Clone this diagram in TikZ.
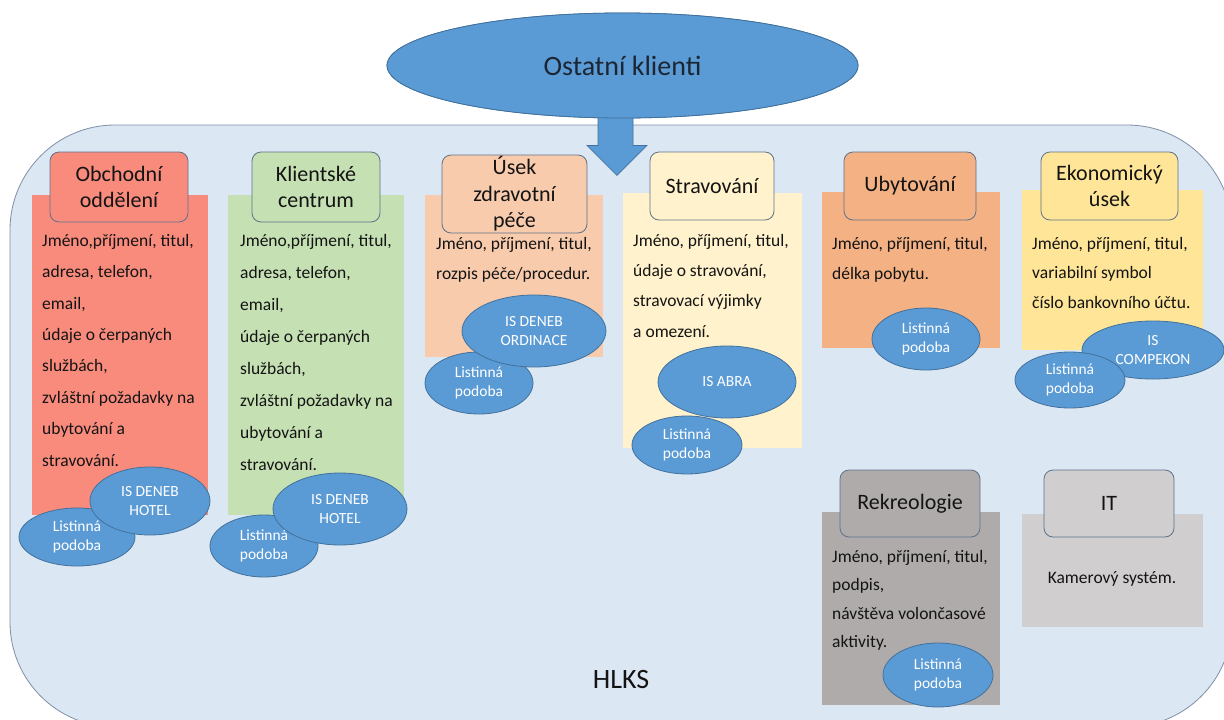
\documentclass[tikz,border=0pt]{standalone}
\usepackage{fontspec}
\setmainfont{Carlito}
\usetikzlibrary{shapes.geometric,calc}

\definecolor{hallfill}{HTML}{DCE7F4}
\definecolor{hallline}{HTML}{7F8FA6}
\definecolor{elfill}{HTML}{5B9BD5}
\definecolor{elline}{HTML}{41719C}
\definecolor{hdline}{HTML}{5E7289}
\definecolor{ink}{HTML}{141414}
\definecolor{navy}{HTML}{1C2633}
\definecolor{cObch}{HTML}{F98B7D}
\definecolor{cKlient}{HTML}{C5E0B3}
\definecolor{cZdrav}{HTML}{F8CBAD}
\definecolor{cStrav}{HTML}{FFF2CC}
\definecolor{cUbyt}{HTML}{F4B183}
\definecolor{cEkon}{HTML}{FFE597}
\definecolor{cRekr}{HTML}{AFABAB}
\definecolor{cIT}{HTML}{D0CECE}

\tikzset{
  hall/.style={draw=hallline, fill=hallfill, line width=0.8pt, rounded corners=105pt,
    anchor=north west, inner sep=0pt, outer sep=0pt},
  panel/.style={anchor=north west, inner sep=0pt, outer sep=0pt, draw=none},
  head/.style={draw=hdline, line width=0.8pt, rounded corners=9pt, inner sep=0pt,
    align=center, text=ink, font=\fontsize{22}{26.5}\selectfont},
  body/.style={anchor=north west, align=left, inner sep=0pt, text=ink},
  sys/.style={ellipse, draw=elline, fill=elfill, line width=0.8pt, inner sep=0pt,
    text=white, align=center, font=\fontsize{15.5}{18.5}\selectfont},
  blockarrow/.style={draw=elline, fill=elfill, line width=0.8pt, line join=miter},
  bigoval/.style={ellipse, draw=elline, fill=elfill, line width=0.8pt, inner sep=0pt,
    minimum width=471, minimum height=105, text=navy, font=\fontsize{28}{30}\selectfont},
}

\begin{document}
\begin{tikzpicture}[x=1pt,y=-1pt]
\useasboundingbox (0,0) rectangle (1224,720);

% the organisation as a large rounded frame
\begin{scope}
  \clip (0,0) rectangle (1224,720);
  \node[hall, minimum width=1222, minimum height=602] (hall) at (10,125) {};
\end{scope}
\node[font=\fontsize{28}{30}\selectfont, text=ink, anchor=base] (hlks) at (621,688) {HLKS};

% incoming clients, with the block arrow into the frame
\node[bigoval] (ost) at (622.5,65.5) {};
\draw[blockarrow]
  ($(ost.south)+(-24.5,-6)$) -- ($(ost.south)+(10.5,-6)$) -- ($(ost.south)+(10.5,27)$)
  -- ($(ost.south)+(24.5,27)$) -- ($(ost.south)+(-5.5,57)$) -- ($(ost.south)+(-35.5,27)$)
  -- ($(ost.south)+(-24.5,27)$) -- cycle;
\node[bigoval] (ostlabel) at (ost.center) {Ostatní klienti};

% ---- Obchodní oddělení
\node[panel, fill=cObch, minimum width=176, minimum height=320] (obP) at (32,195) {};
\node[head, fill=cObch, minimum width=138, minimum height=70] (obH) at (119,187) {Obchodní\\oddělení};
\node[body, font=\fontsize{17.5}{31.4}\selectfont] (obT) at (42,234)
  {Jméno,příjmení, titul,\\adresa, telefon,\\email,\\údaje o čerpaných\\službách,\\zvláštní požadavky na\\ubytování a\\stravování.};
\node[sys, minimum width=116, minimum height=58] (obL) at (77,537) {Listinná\\podoba};
\node[sys, minimum width=120, minimum height=68] (obS) at (150,501) {IS DENEB\\HOTEL};

% ---- Klientské centrum
\node[panel, fill=cKlient, minimum width=176, minimum height=320] (klP) at (228,195) {};
\node[head, fill=cKlient, minimum width=128, minimum height=70] (klH) at (316,187) {Klientské\\centrum};
\node[body, font=\fontsize{17.5}{32}\selectfont] (klT) at (240,234)
  {Jméno,příjmení, titul,\\adresa, telefon,\\email,\\údaje o čerpaných\\službách,\\zvláštní požadavky na\\ubytování a\\stravování.};
\node[sys, minimum width=108, minimum height=62] (klL) at (264,546) {Listinná\\podoba};
\node[sys, minimum width=134, minimum height=72] (klS) at (340,509) {IS DENEB\\HOTEL};

% ---- Úsek zdravotní péče
\node[panel, fill=cZdrav, minimum width=178, minimum height=162] (zdP) at (425,195) {};
\node[head, fill=cZdrav, minimum width=145, minimum height=78] (zdH) at (514.5,194) {Úsek\\zdravotní\\péče};
\node[body, font=\fontsize{17.5}{30}\selectfont] (zdT) at (436,237)
  {Jméno, příjmení, titul,\\rozpis péče/procedur.};
\node[sys, minimum width=108, minimum height=62] (zdL) at (479,383) {Listinná\\podoba};
\node[sys, minimum width=144, minimum height=72] (zdS) at (534,331) {IS DENEB\\ORDINACE};

% ---- Stravování
\node[panel, fill=cStrav, minimum width=179, minimum height=255] (stP) at (623,193) {};
\node[head, fill=cStrav, minimum width=124, minimum height=68] (stH) at (712,186) {Stravování};
\node[body, font=\fontsize{17.5}{30.3}\selectfont] (stT) at (633,234)
  {Jméno, příjmení, titul,\\údaje o stravování,\\stravovací výjimky\\a omezení.};
\node[sys, minimum width=138, minimum height=72] (stS) at (727,382) {IS ABRA};
\node[sys, minimum width=110, minimum height=58] (stL) at (687,445) {Listinná\\podoba};

% ---- Ubytování
\node[panel, fill=cUbyt, minimum width=178, minimum height=156] (ubP) at (822,192) {};
\node[head, fill=cUbyt, minimum width=132, minimum height=68] (ubH) at (910,186) {Ubytování};
\node[body, font=\fontsize{17.5}{30}\selectfont] (ubT) at (832,237)
  {Jméno, příjmení, titul,\\délka pobytu.};
\node[sys, minimum width=108, minimum height=62] (ubL) at (926,339) {Listinná\\podoba};

% ---- Ekonomický úsek
\node[panel, fill=cEkon, minimum width=181, minimum height=160] (ekP) at (1022,190) {};
\node[head, fill=cEkon, minimum width=137, minimum height=68] (ekH) at (1109.5,186) {Ekonomický\\úsek};
\node[body, font=\fontsize{17.5}{29.5}\selectfont] (ekT) at (1032,237)
  {Jméno, příjmení, titul,\\variabilní symbol\\číslo bankovního účtu.};
\node[sys, minimum width=142, minimum height=58] (ekS) at (1153,350) {IS\\COMPEKON};
\node[sys, minimum width=110, minimum height=56] (ekL) at (1070,380) {Listinná\\podoba};

% ---- Rekreologie
\node[panel, fill=cRekr, minimum width=178, minimum height=193] (rkP) at (822,512) {};
\node[head, fill=cRekr, minimum width=140, minimum height=67] (rkH) at (910,503.5) {Rekreologie};
\node[body, font=\fontsize{17.5}{28.4}\selectfont] (rkT) at (832,550)
  {Jméno, příjmení, titul,\\podpis,\\návštěva volončasové\\aktivity.};
\node[sys, minimum width=110, minimum height=64] (rkL) at (938,675) {Listinná\\podoba};

% ---- IT
\node[panel, fill=cIT, minimum width=181, minimum height=113] (itP) at (1022,514) {};
\node[head, fill=cIT, minimum width=130, minimum height=67] (itH) at (1109,503.5) {IT};
\node[body, anchor=base, font=\fontsize{17.5}{21}\selectfont] (itT) at (1112,583) {Kamerový systém.};
\end{tikzpicture}
\end{document}
